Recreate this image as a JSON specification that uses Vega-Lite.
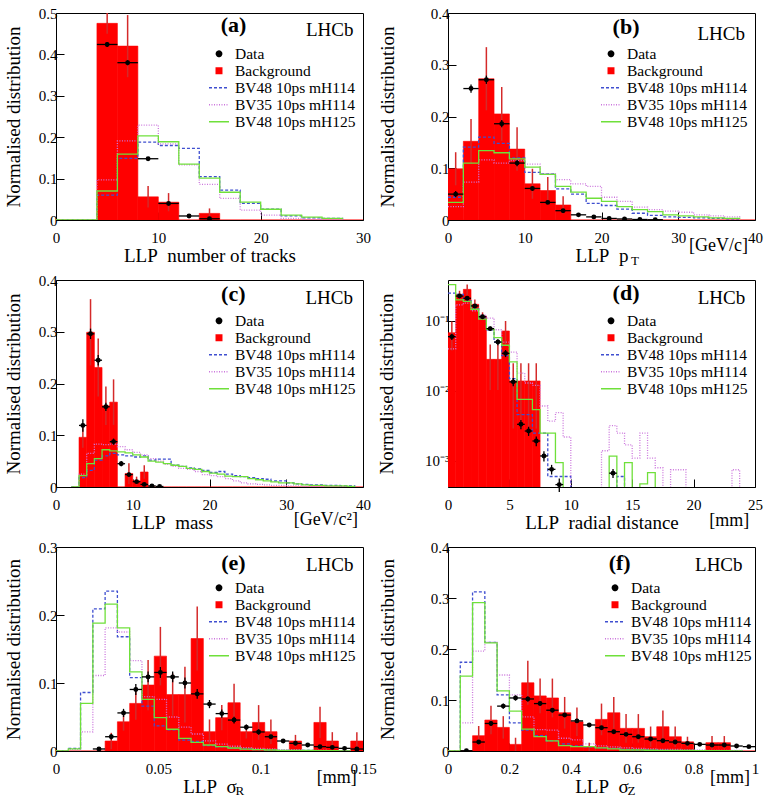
{
"$schema": "https://vega.github.io/schema/vega-lite/v6.json",
"background": "white",
"padding": {"left": 3, "top": 5, "right": 2, "bottom": 5},
"columns": 2,
"bounds": "flush",
"spacing": {"row": 60, "column": 85},
"resolve": {"scale": {"color": "independent", "strokeDash": "independent"}, "legend": {"color": "independent", "strokeDash": "independent"}},
"config": {
  "font": "Liberation Serif",
  "view": {"stroke": "#000", "strokeWidth": 1},
  "axis": {"labelFont": "Liberation Serif", "labelFontSize": 15, "labelColor": "#000", "titleFont": "Liberation Serif", "titleFontSize": 19, "titleFontWeight": "normal", "titleColor": "#000", "grid": false, "domain": false, "tickColor": "#000", "tickWidth": 1, "tickSize": -8, "labelFlush": false, "labelOverlap": false},
  "axisX": {"labelPadding": 18, "titlePadding": 1},
  "axisY": {"labelPadding": 7, "titlePadding": 15}
},
"datasets": {
"a": [
{"lo":0,"hi":2,"mid":1,"bkg":0,"s48":0,"s35":0,"s125":0},
{"lo":2,"hi":4,"mid":3,"bkg":0,"s48":0,"s35":0,"s125":0},
{"lo":4,"hi":6,"mid":5,"bkg":0.475,"bkgErr":0.025,"data":0.424,"dataErr":0.006,"s48":0.060,"s35":0.097,"s125":0.070},
{"lo":6,"hi":8,"mid":7,"bkg":0.420,"bkgErr":0.075,"data":0.380,"dataErr":0.006,"s48":0.149,"s35":0.191,"s125":0.159},
{"lo":8,"hi":10,"mid":9,"bkg":0.056,"bkgErr":0.026,"data":0.148,"dataErr":0.004,"s48":0.188,"s35":0.229,"s125":0.203},
{"lo":10,"hi":12,"mid":11,"bkg":0.043,"bkgErr":0.022,"data":0.040,"dataErr":0.003,"s48":0.180,"s35":0.184,"s125":0.189},
{"lo":12,"hi":14,"mid":13,"bkg":0,"data":0.0097,"dataErr":0.002,"s48":0.173,"s35":0.133,"s125":0.135},
{"lo":14,"hi":16,"mid":15,"bkg":0.016,"bkgErr":0.012,"data":0.003,"dataErr":0.001,"s48":0.105,"s35":0.086,"s125":0.101},
{"lo":16,"hi":18,"mid":17,"bkg":0,"s48":0.072,"s35":0.052,"s125":0.067},
{"lo":18,"hi":20,"mid":19,"bkg":0,"s48":0.040,"s35":0.024,"s125":0.043},
{"lo":20,"hi":22,"mid":21,"bkg":0,"s48":0.026,"s35":0.012,"s125":0.026},
{"lo":22,"hi":24,"mid":23,"bkg":0,"s48":0.010,"s35":0.004,"s125":0.012},
{"lo":24,"hi":26,"mid":25,"bkg":0,"s48":0.005,"s35":0.002,"s125":0.007},
{"lo":26,"hi":28,"mid":27,"bkg":0,"s48":0.004,"s35":0.001,"s125":0.004},
{"lo":28,"hi":30,"mid":29,"bkg":0,"s48":0.002,"s35":0.0005,"s125":0.002}
],
"b": [
{"lo":0,"hi":2,"mid":1,"bkg":0.099,"bkgErr":0.032,"data":0.050,"dataErr":0.006,"s48":0.044,"s35":0.026,"s125":0.034},
{"lo":2,"hi":4,"mid":3,"bkg":0.152,"bkgErr":0.043,"data":0.254,"dataErr":0.008,"s48":0.141,"s35":0.073,"s125":0.110},
{"lo":4,"hi":6,"mid":5,"bkg":0.273,"bkgErr":0.061,"data":0.271,"dataErr":0.008,"s48":0.160,"s35":0.116,"s125":0.134},
{"lo":6,"hi":8,"mid":7,"bkg":0.205,"bkgErr":0.052,"data":0.186,"dataErr":0.007,"s48":0.148,"s35":0.110,"s125":0.130},
{"lo":8,"hi":10,"mid":9,"bkg":0.137,"bkgErr":0.042,"data":0.110,"dataErr":0.006,"s48":0.120,"s35":0.115,"s125":0.118},
{"lo":10,"hi":12,"mid":11,"bkg":0.070,"bkgErr":0.029,"data":0.061,"dataErr":0.004,"s48":0.092,"s35":0.108,"s125":0.102},
{"lo":12,"hi":14,"mid":13,"bkg":0.057,"bkgErr":0.026,"data":0.034,"dataErr":0.003,"s48":0.089,"s35":0.089,"s125":0.088},
{"lo":14,"hi":16,"mid":15,"bkg":0.029,"bkgErr":0.017,"data":0.018,"dataErr":0.003,"s48":0.060,"s35":0.078,"s125":0.065},
{"lo":16,"hi":18,"mid":17,"bkg":0,"data":0.010,"dataErr":0.002,"s48":0.050,"s35":0.070,"s125":0.054},
{"lo":18,"hi":20,"mid":19,"bkg":0,"data":0.006,"dataErr":0.002,"s48":0.032,"s35":0.065,"s125":0.042},
{"lo":20,"hi":22,"mid":21,"bkg":0,"data":0.003,"dataErr":0.001,"s48":0.028,"s35":0.044,"s125":0.036},
{"lo":22,"hi":24,"mid":23,"bkg":0,"data":0.002,"dataErr":0.001,"s48":0.021,"s35":0.036,"s125":0.026},
{"lo":24,"hi":26,"mid":25,"bkg":0,"data":0.001,"dataErr":0.001,"s48":0.013,"s35":0.025,"s125":0.020},
{"lo":26,"hi":28,"mid":27,"bkg":0,"data":0.0005,"dataErr":0.0005,"s48":0.009,"s35":0.020,"s125":0.016},
{"lo":28,"hi":30,"mid":29,"bkg":0,"s48":0.006,"s35":0.017,"s125":0.010},
{"lo":30,"hi":32,"mid":31,"bkg":0,"s48":0.005,"s35":0.015,"s125":0.008},
{"lo":32,"hi":34,"mid":33,"bkg":0,"s48":0.004,"s35":0.010,"s125":0.006},
{"lo":34,"hi":36,"mid":35,"bkg":0,"s48":0.003,"s35":0.008,"s125":0.004},
{"lo":36,"hi":38,"mid":37,"bkg":0,"s48":0.002,"s35":0.006,"s125":0.003},
{"lo":38,"hi":40,"mid":39,"bkg":0,"s48":0.001,"s35":0.008,"s125":0.002}
],
"c": [
{"lo":2,"hi":3,"mid":2.5,"bkg":0,"s48":0,"s35":0,"s125":0},
{"lo":3,"hi":4,"mid":3.5,"bkg":0.096,"bkgErr":0.02,"data":0.119,"dataErr":0.012,"s48":0.018,"s35":0.025,"s125":0.022},
{"lo":4,"hi":5,"mid":4.5,"bkg":0.299,"bkgErr":0.064,"data":0.296,"dataErr":0.01,"s48":0.032,"s35":0.065,"s125":0.045},
{"lo":5,"hi":6,"mid":5.5,"bkg":0.231,"bkgErr":0.056,"data":0.245,"dataErr":0.01,"s48":0.052,"s35":0.083,"s125":0.055},
{"lo":6,"hi":7,"mid":6.5,"bkg":0.157,"bkgErr":0.037,"data":0.155,"dataErr":0.008,"s48":0.060,"s35":0.082,"s125":0.072},
{"lo":7,"hi":8,"mid":7.5,"bkg":0.164,"bkgErr":0.044,"data":0.0876,"dataErr":0.006,"s48":0.065,"s35":0.083,"s125":0.070},
{"lo":8,"hi":9,"mid":8.5,"bkg":0,"data":0.045,"dataErr":0.005,"s48":0.062,"s35":0.078,"s125":0.068},
{"lo":9,"hi":10,"mid":9.5,"bkg":0.026,"bkgErr":0.02,"data":0.024,"dataErr":0.004,"s48":0.060,"s35":0.072,"s125":0.066},
{"lo":10,"hi":11,"mid":10.5,"bkg":0.012,"bkgErr":0.008,"data":0.0103,"dataErr":0.003,"s48":0.058,"s35":0.067,"s125":0.062},
{"lo":11,"hi":12,"mid":11.5,"bkg":0.029,"bkgErr":0.013,"data":0.005,"dataErr":0.002,"s48":0.060,"s35":0.062,"s125":0.058},
{"lo":12,"hi":13,"mid":12.5,"bkg":0,"data":0.002,"dataErr":0.001,"s48":0.052,"s35":0.055,"s125":0.050},
{"lo":13,"hi":14,"mid":13.5,"bkg":0,"data":0.001,"dataErr":0.001,"s48":0.054,"s35":0.050,"s125":0.048},
{"lo":14,"hi":15,"mid":14.5,"bkg":0,"s48":0.054,"s35":0.044,"s125":0.045},
{"lo":15,"hi":16,"mid":15.5,"bkg":0,"s48":0.042,"s35":0.040,"s125":0.042},
{"lo":16,"hi":17,"mid":16.5,"bkg":0,"s48":0.040,"s35":0.036,"s125":0.040},
{"lo":17,"hi":18,"mid":17.5,"bkg":0,"s48":0.037,"s35":0.034,"s125":0.036},
{"lo":18,"hi":19,"mid":18.5,"bkg":0,"s48":0.035,"s35":0.030,"s125":0.034},
{"lo":19,"hi":20,"mid":19.5,"bkg":0,"s48":0.032,"s35":0.024,"s125":0.030},
{"lo":20,"hi":21,"mid":20.5,"bkg":0,"s48":0.028,"s35":0.022,"s125":0.027},
{"lo":21,"hi":22,"mid":21.5,"bkg":0,"s48":0.030,"s35":0.020,"s125":0.025},
{"lo":22,"hi":23,"mid":22.5,"bkg":0,"s48":0.025,"s35":0.016,"s125":0.021},
{"lo":23,"hi":24,"mid":23.5,"bkg":0,"s48":0.022,"s35":0.012,"s125":0.020},
{"lo":24,"hi":25,"mid":24.5,"bkg":0,"s48":0.020,"s35":0.008,"s125":0.020},
{"lo":25,"hi":26,"mid":25.5,"bkg":0,"s48":0.018,"s35":0.006,"s125":0.016},
{"lo":26,"hi":27,"mid":26.5,"bkg":0,"s48":0.016,"s35":0.005,"s125":0.014},
{"lo":27,"hi":28,"mid":27.5,"bkg":0,"s48":0.015,"s35":0.004,"s125":0.012},
{"lo":28,"hi":29,"mid":28.5,"bkg":0,"s48":0.012,"s35":0.003,"s125":0.010},
{"lo":29,"hi":30,"mid":29.5,"bkg":0,"s48":0.012,"s35":0.003,"s125":0.008},
{"lo":30,"hi":31,"mid":30.5,"bkg":0,"s48":0.008,"s35":0.002,"s125":0.008},
{"lo":31,"hi":32,"mid":31.5,"bkg":0,"s48":0.006,"s35":0.002,"s125":0.006},
{"lo":32,"hi":33,"mid":32.5,"bkg":0,"s48":0.005,"s35":0.001,"s125":0.004},
{"lo":33,"hi":34,"mid":33.5,"bkg":0,"s48":0.004,"s35":0.001,"s125":0.003},
{"lo":34,"hi":35,"mid":34.5,"bkg":0,"s48":0.004,"s35":0.001,"s125":0.003},
{"lo":35,"hi":36,"mid":35.5,"bkg":0,"s48":0.003,"s35":0.001,"s125":0.002},
{"lo":36,"hi":37,"mid":36.5,"bkg":0,"s48":0.003,"s35":0.0005,"s125":0.002},
{"lo":37,"hi":38,"mid":37.5,"bkg":0,"s48":0.002,"s35":0.0005,"s125":0.002},
{"lo":38,"hi":39,"mid":38.5,"bkg":0,"s48":0.002,"s35":0.0005,"s125":0.001},
{"lo":39,"hi":40,"mid":39.5,"bkg":0,"s48":0.002,"s35":0.0005,"s125":0.001}
],
"d": [
{"lo":0,"hi":0.625,"mid":0.3125,"bkg":0.068,"bkgErr":0.03,"data":0.0597,"dataErr":0.006,"s48":0.25,"s35":0.04,"s125":0.33},
{"lo":0.625,"hi":1.25,"mid":0.9375,"bkg":0.24,"bkgErr":0.03,"data":0.227,"dataErr":0.012,"s48":0.24,"s35":0.17,"s125":0.20},
{"lo":1.25,"hi":1.875,"mid":1.5625,"bkg":0.283,"bkgErr":0.05,"data":0.211,"dataErr":0.012,"s48":0.20,"s35":0.18,"s125":0.19},
{"lo":1.875,"hi":2.5,"mid":2.1875,"bkg":0.173,"bkgErr":0.03,"data":0.164,"dataErr":0.01,"s48":0.15,"s35":0.14,"s125":0.147},
{"lo":2.5,"hi":3.125,"mid":2.8125,"bkg":0.118,"bkgErr":0.015,"data":0.115,"dataErr":0.008,"s48":0.11,"s35":0.12,"s125":0.106},
{"lo":3.125,"hi":3.75,"mid":3.4375,"bkg":0.0283,"bkgErr":0.018,"data":0.0777,"dataErr":0.006,"s48":0.075,"s35":0.11,"s125":0.076},
{"lo":3.75,"hi":4.375,"mid":4.0625,"bkg":0.0283,"bkgErr":0.018,"data":0.050,"dataErr":0.005,"s48":0.05,"s35":0.075,"s125":0.058},
{"lo":4.375,"hi":5,"mid":4.6875,"bkg":0.072,"bkgErr":0.028,"data":0.0345,"dataErr":0.004,"s48":0.032,"s35":0.05,"s125":0.045},
{"lo":5,"hi":5.625,"mid":5.3125,"bkg":0.0139,"bkgErr":0.011,"data":0.0135,"dataErr":0.0018,"s48":0.015,"s35":0.036,"s125":0.026},
{"lo":5.625,"hi":6.25,"mid":5.9375,"bkg":0.0139,"bkgErr":0.011,"data":0.00334,"dataErr":0.0005,"s48":0.0046,"s35":0.018,"s125":0.0076},
{"lo":6.25,"hi":6.875,"mid":6.5625,"bkg":0.0139,"bkgErr":0.011,"data":0.00268,"dataErr":0.0004,"s48":0.0046,"s35":0.013,"s125":0.0076},
{"lo":6.875,"hi":7.5,"mid":7.1875,"bkg":0.0139,"bkgErr":0.011,"data":0.00193,"dataErr":0.0003,"s48":0.0025,"s35":0.012,"s125":0.0054},
{"lo":7.5,"hi":8.125,"mid":7.8125,"data":0.00118,"dataErr":0.0002,"s48":0.0025,"s35":0.0061,"s125":0.0025},
{"lo":8.125,"hi":8.75,"mid":8.4375,"data":0.00076,"dataErr":0.00012,"s48":0.0006,"s35":0.0037,"s125":0.0025},
{"lo":8.75,"hi":9.375,"mid":9.0625,"data":0.00046,"dataErr":0.0001,"s48":0.0006,"s35":0.0049,"s125":0.00095},
{"lo":9.375,"hi":10,"mid":9.6875,"s48":0.0006,"s35":0.0022,"s125":0.00001},
{"lo":10,"hi":10.625,"mid":10.3125,"s48":0.00001,"s35":0.00001,"s125":0.00001},
{"lo":10.625,"hi":11.25,"mid":10.9375,"s48":0.00001,"s35":0.00001,"s125":0.00001},
{"lo":11.25,"hi":11.875,"mid":11.5625,"s48":0.00001,"s35":0.00001,"s125":0.00001},
{"lo":11.875,"hi":12.5,"mid":12.1875,"s48":0.00001,"s35":0.00001,"s125":0.00001},
{"lo":12.5,"hi":13.125,"mid":12.8125,"s48":0.00001,"s35":0.0014,"s125":0.00001},
{"lo":13.125,"hi":13.75,"mid":13.4375,"data":0.00067,"dataErr":0.0001,"s48":0.00001,"s35":0.0032,"s125":0.00117},
{"lo":13.75,"hi":14.375,"mid":14.0625,"s48":0.0006,"s35":0.0025,"s125":0.00001},
{"lo":14.375,"hi":15,"mid":14.6875,"s48":0.00001,"s35":0.0017,"s125":0.00095},
{"lo":15,"hi":15.625,"mid":15.3125,"s48":0.00001,"s35":0.0011,"s125":0.00001},
{"lo":15.625,"hi":16.25,"mid":15.9375,"s48":0.00001,"s35":0.0025,"s125":0.00047},
{"lo":16.25,"hi":16.875,"mid":16.5625,"s48":0.00001,"s35":0.0011,"s125":0.00068},
{"lo":16.875,"hi":17.5,"mid":17.1875,"s48":0.00001,"s35":0.0008,"s125":0.00001},
{"lo":17.5,"hi":18.125,"mid":17.8125,"s48":0.00001,"s35":0.00001,"s125":0.00001},
{"lo":18.125,"hi":18.75,"mid":18.4375,"s48":0.00001,"s35":0.00075,"s125":0.00001},
{"lo":18.75,"hi":19.375,"mid":19.0625,"s48":0.00001,"s35":0.00075,"s125":0.00001},
{"lo":19.375,"hi":20,"mid":19.6875,"s48":0.00001,"s35":0.00001,"s125":0.00001},
{"lo":20,"hi":20.625,"mid":20.3125,"s48":0.00001,"s35":0.00001,"s125":0.00001},
{"lo":20.625,"hi":21.25,"mid":20.9375,"s48":0.00001,"s35":0.00001,"s125":0.00001},
{"lo":21.25,"hi":21.875,"mid":21.5625,"s48":0.00001,"s35":0.00001,"s125":0.00001},
{"lo":21.875,"hi":22.5,"mid":22.1875,"s48":0.00001,"s35":0.00001,"s125":0.00001},
{"lo":22.5,"hi":23.125,"mid":22.8125,"s48":0.00001,"s35":0.00001,"s125":0.00001},
{"lo":23.125,"hi":23.75,"mid":23.4375,"s48":0.00001,"s35":0.00075,"s125":0.00001},
{"lo":23.75,"hi":24.375,"mid":24.0625,"s48":0.00001,"s35":0.00001,"s125":0.00001},
{"lo":24.375,"hi":25,"mid":24.6875,"s48":0.00001,"s35":0.00001,"s125":0.00001}
],
"e": [
{"lo":0,"hi":0.006,"mid":0.003,"bkg":0,"s48":0,"s35":0,"s125":0},
{"lo":0.006,"hi":0.012,"mid":0.009,"bkg":0,"s48":0.004,"s35":0.002,"s125":0.003},
{"lo":0.012,"hi":0.018,"mid":0.015,"bkg":0,"s48":0.086,"s35":0.028,"s125":0.070},
{"lo":0.018,"hi":0.024,"mid":0.021,"bkg":0,"data":0.003,"dataErr":0.002,"s48":0.209,"s35":0.111,"s125":0.188},
{"lo":0.024,"hi":0.030,"mid":0.027,"bkg":0.0147,"bkgErr":0.012,"data":0.021,"dataErr":0.004,"s48":0.235,"s35":0.181,"s125":0.216},
{"lo":0.030,"hi":0.036,"mid":0.033,"bkg":0.043,"bkgErr":0.013,"data":0.056,"dataErr":0.006,"s48":0.168,"s35":0.175,"s125":0.181},
{"lo":0.036,"hi":0.042,"mid":0.039,"bkg":0.070,"bkgErr":0.024,"data":0.0905,"dataErr":0.008,"s48":0.108,"s35":0.133,"s125":0.1165},
{"lo":0.042,"hi":0.048,"mid":0.045,"bkg":0.097,"bkgErr":0.037,"data":0.109,"dataErr":0.008,"s48":0.066,"s35":0.080,"s125":0.076},
{"lo":0.048,"hi":0.054,"mid":0.051,"bkg":0.1395,"bkgErr":0.043,"data":0.1155,"dataErr":0.008,"s48":0.037,"s35":0.076,"s125":0.049},
{"lo":0.054,"hi":0.060,"mid":0.057,"bkg":0.083,"bkgErr":0.031,"data":0.109,"dataErr":0.008,"s48":0.031,"s35":0.050,"s125":0.032},
{"lo":0.060,"hi":0.066,"mid":0.063,"bkg":0.083,"bkgErr":0.041,"data":0.100,"dataErr":0.008,"s48":0.016,"s35":0.035,"s125":0.0186},
{"lo":0.066,"hi":0.072,"mid":0.069,"bkg":0.1654,"bkgErr":0.047,"data":0.084,"dataErr":0.007,"s48":0.014,"s35":0.025,"s125":0.0127},
{"lo":0.072,"hi":0.078,"mid":0.075,"bkg":0.0284,"bkgErr":0.018,"data":0.069,"dataErr":0.006,"s48":0.008,"s35":0.015,"s125":0.0088},
{"lo":0.078,"hi":0.084,"mid":0.081,"bkg":0.049,"bkgErr":0.0185,"data":0.055,"dataErr":0.006,"s48":0.006,"s35":0.010,"s125":0.0064},
{"lo":0.084,"hi":0.090,"mid":0.087,"bkg":0.071,"bkgErr":0.028,"data":0.0455,"dataErr":0.005,"s48":0.004,"s35":0.007,"s125":0.0044},
{"lo":0.090,"hi":0.096,"mid":0.093,"bkg":0.0284,"bkgErr":0.01,"data":0.035,"dataErr":0.004,"s48":0.003,"s35":0.005,"s125":0.0029},
{"lo":0.096,"hi":0.102,"mid":0.099,"bkg":0.042,"bkgErr":0.0255,"data":0.028,"dataErr":0.004,"s48":0.002,"s35":0.004,"s125":0.002},
{"lo":0.102,"hi":0.108,"mid":0.105,"bkg":0.0284,"bkgErr":0.018,"data":0.021,"dataErr":0.003,"s48":0.0015,"s35":0.003,"s125":0.0015},
{"lo":0.108,"hi":0.114,"mid":0.111,"bkg":0,"data":0.0147,"dataErr":0.003,"s48":0.001,"s35":0.002,"s125":0.001},
{"lo":0.114,"hi":0.120,"mid":0.117,"bkg":0.0147,"bkgErr":0.009,"data":0.0113,"dataErr":0.002,"s48":0.001,"s35":0.002,"s125":0.001},
{"lo":0.120,"hi":0.126,"mid":0.123,"bkg":0,"data":0.0088,"dataErr":0.002,"s48":0.0008,"s35":0.001,"s125":0.0008},
{"lo":0.126,"hi":0.132,"mid":0.129,"bkg":0.042,"bkgErr":0.023,"data":0.0064,"dataErr":0.0015,"s48":0.0005,"s35":0.001,"s125":0.0005},
{"lo":0.132,"hi":0.138,"mid":0.135,"bkg":0.0147,"bkgErr":0.013,"data":0.0054,"dataErr":0.0015,"s48":0.0005,"s35":0.0005,"s125":0.0005},
{"lo":0.138,"hi":0.144,"mid":0.141,"bkg":0,"data":0.0039,"dataErr":0.001,"s48":0.0003,"s35":0.0005,"s125":0.0003},
{"lo":0.144,"hi":0.150,"mid":0.147,"bkg":0.0147,"bkgErr":0.013,"data":0.0029,"dataErr":0.001,"s48":0.0003,"s35":0.0005,"s125":0.0003}
],
"f": [
{"lo":0,"hi":0.04,"mid":0.02,"bkg":0,"s48":0,"s35":0,"s125":0},
{"lo":0.04,"hi":0.08,"mid":0.06,"bkg":0,"data":0.0005,"dataErr":0.0005,"s48":0.174,"s35":0.055,"s125":0.147},
{"lo":0.08,"hi":0.12,"mid":0.10,"bkg":0.030,"bkgErr":0.019,"data":0.0176,"dataErr":0.003,"s48":0.312,"s35":0.196,"s125":0.291},
{"lo":0.12,"hi":0.16,"mid":0.14,"bkg":0.0607,"bkgErr":0.028,"data":0.054,"dataErr":0.005,"s48":0.213,"s35":0.213,"s125":0.212},
{"lo":0.16,"hi":0.20,"mid":0.18,"bkg":0.0463,"bkgErr":0.022,"data":0.088,"dataErr":0.005,"s48":0.110,"s35":0.149,"s125":0.118},
{"lo":0.20,"hi":0.24,"mid":0.22,"bkg":0.013,"bkgErr":0.013,"data":0.104,"dataErr":0.005,"s48":0.055,"s35":0.110,"s125":0.078},
{"lo":0.24,"hi":0.28,"mid":0.26,"bkg":0.1338,"bkgErr":0.043,"data":0.102,"dataErr":0.005,"s48":0.041,"s35":0.067,"s125":0.043},
{"lo":0.28,"hi":0.32,"mid":0.30,"bkg":0.108,"bkgErr":0.034,"data":0.093,"dataErr":0.004,"s48":0.030,"s35":0.042,"s125":0.028},
{"lo":0.32,"hi":0.36,"mid":0.34,"bkg":0.104,"bkgErr":0.038,"data":0.080,"dataErr":0.004,"s48":0.020,"s35":0.041,"s125":0.020},
{"lo":0.36,"hi":0.40,"mid":0.38,"bkg":0.075,"bkgErr":0.031,"data":0.0705,"dataErr":0.004,"s48":0.014,"s35":0.025,"s125":0.0104},
{"lo":0.40,"hi":0.44,"mid":0.42,"bkg":0.0574,"bkgErr":0.028,"data":0.059,"dataErr":0.004,"s48":0.010,"s35":0.022,"s125":0.0085},
{"lo":0.44,"hi":0.48,"mid":0.46,"bkg":0.008,"bkgErr":0.008,"data":0.051,"dataErr":0.003,"s48":0.008,"s35":0.014,"s125":0.0085},
{"lo":0.48,"hi":0.52,"mid":0.50,"bkg":0.062,"bkgErr":0.031,"data":0.0457,"dataErr":0.003,"s48":0.006,"s35":0.010,"s125":0.006},
{"lo":0.52,"hi":0.56,"mid":0.54,"bkg":0.075,"bkgErr":0.031,"data":0.0378,"dataErr":0.003,"s48":0.005,"s35":0.008,"s125":0.004},
{"lo":0.56,"hi":0.60,"mid":0.58,"bkg":0.0444,"bkgErr":0.028,"data":0.0326,"dataErr":0.003,"s48":0.003,"s35":0.006,"s125":0.002},
{"lo":0.60,"hi":0.64,"mid":0.62,"bkg":0.0444,"bkgErr":0.028,"data":0.028,"dataErr":0.003,"s48":0.002,"s35":0.005,"s125":0.002},
{"lo":0.64,"hi":0.68,"mid":0.66,"bkg":0.028,"bkgErr":0.02,"data":0.0235,"dataErr":0.003,"s48":0.002,"s35":0.004,"s125":0.0015},
{"lo":0.68,"hi":0.72,"mid":0.70,"bkg":0.0476,"bkgErr":0.032,"data":0.0202,"dataErr":0.002,"s48":0.0015,"s35":0.003,"s125":0.001},
{"lo":0.72,"hi":0.76,"mid":0.74,"bkg":0.028,"bkgErr":0.02,"data":0.0176,"dataErr":0.002,"s48":0.001,"s35":0.003,"s125":0.001},
{"lo":0.76,"hi":0.80,"mid":0.78,"bkg":0.018,"bkgErr":0.01,"data":0.015,"dataErr":0.002,"s48":0.001,"s35":0.002,"s125":0.001},
{"lo":0.80,"hi":0.84,"mid":0.82,"bkg":0,"data":0.013,"dataErr":0.002,"s48":0.0005,"s35":0.002,"s125":0.0005},
{"lo":0.84,"hi":0.88,"mid":0.86,"bkg":0.0163,"bkgErr":0.013,"data":0.0117,"dataErr":0.002,"s48":0.0005,"s35":0.001,"s125":0.0005},
{"lo":0.88,"hi":0.92,"mid":0.90,"bkg":0.0163,"bkgErr":0.013,"data":0.0117,"dataErr":0.002,"s48":0.0005,"s35":0.001,"s125":0.0005},
{"lo":0.92,"hi":0.96,"mid":0.94,"bkg":0,"data":0.0098,"dataErr":0.002,"s48":0.0003,"s35":0.001,"s125":0.0003},
{"lo":0.96,"hi":1.0,"mid":0.98,"bkg":0,"data":0.0085,"dataErr":0.002,"s48":0.0003,"s35":0.0005,"s125":0.0003}
]
},
"concat": [
{
 "width": 307, "height": 207,
 "data": {"name": "a"},
 "layer": [
  {"mark": {"type": "rect", "color": "#ff0000", "stroke": "#ff0000", "strokeWidth": 0.6, "clip": true},
   "encoding": {
    "x": {"field": "lo", "type": "quantitative", "scale": {"domain": [0, 30], "nice": false, "zero": false},
      "axis": {"title": "LLP\u00a0 number of tracks", "format": "~g", "values": [0,10,20,30]}},
    "x2": {"field": "hi"},
    "y": {"field": "bkg", "type": "quantitative", "scale": {"domain": [0, 0.5], "nice": false},
      "axis": {"title": "Normalised distribution", "format": "~g", "values": [0,0.1,0.2,0.3,0.4,0.5]}},
    "y2": {"datum": 0}
   }},
  {"transform": [{"filter": "datum.bkg > 0"}],
   "mark": {"type": "errorbar", "color": "#d42a2a", "thickness": 1.5},
   "encoding": {"x": {"field": "mid", "type": "quantitative", "title": "LLP\u00a0 number of tracks"}, "y": {"field": "bkg", "type": "quantitative", "title": "Normalised distribution"}, "yError": {"field": "bkgErr"}}},
  {"transform": [{"fold": ["s48", "s35", "s125"], "as": ["series", "v"]}],
   "mark": {"type": "line", "interpolate": "step-after", "clip": true, "strokeWidth": 1.3},
   "encoding": {
    "x": {"field": "lo", "type": "quantitative"},
    "y": {"field": "v", "type": "quantitative"},
    "strokeDash": {"field": "series", "type": "nominal", "scale": {"domain": ["s48", "s35", "s125"], "range": [[3, 2], [1, 1.5], [1, 0]]}, "legend": null},
    "color": {"field": "series", "type": "nominal",
      "scale": {"domain": ["Data", "Background", "s48", "s35", "s125"], "range": ["#000000", "#ff0000", "#3f4fd0", "#cc77dd", "#6fe03a"]},
      "legend": {"orient": "none", "legendX": 152, "legendY": 34, "title": null, "padding": 0, "labelFont": "Liberation Serif", "labelFontSize": 15.5, "labelColor": "#000", "labelOffset": 5, "labelLimit": 300, "symbolSize": 400, "clipHeight": 13.5, "rowPadding": 0,
        "labelExpr": "datum.value=='s48'?'BV48 10ps mH114':datum.value=='s35'?'BV35 10ps mH114':datum.value=='s125'?'BV48 10ps mH125':datum.value",
        "encode": {"symbols": {"update": {
          "shape": {"signal": "datum.value=='Data'?'circle':datum.value=='Background'?'square':'stroke'"},
          "size": {"signal": "datum.value=='Data'?28:datum.value=='Background'?30:400"},
          "fill": {"signal": "datum.value=='Data'?'#000000':datum.value=='Background'?'#ff0000':'transparent'"},
          "stroke": {"signal": "datum.value=='s48'?'#3f4fd0':datum.value=='s35'?'#cc77dd':datum.value=='s125'?'#6fe03a':'transparent'"},
          "strokeDash": {"signal": "datum.value=='s48'?[3,2]:datum.value=='s35'?[1,1.5]:[1,0]"},
          "strokeWidth": {"value": 1.5},
          "opacity": {"value": 1}}}}}}
   }},
  {"transform": [{"filter": "datum.data != null"}],
   "mark": {"type": "rule", "color": "#000", "strokeWidth": 1.3, "clip": true},
   "encoding": {"x": {"field": "lo", "type": "quantitative"}, "x2": {"field": "hi"}, "y": {"field": "data", "type": "quantitative"}}},
  {"transform": [{"filter": "datum.data != null"}],
   "mark": {"type": "errorbar", "color": "#000", "thickness": 1.3},
   "encoding": {"x": {"field": "mid", "type": "quantitative", "title": "LLP\u00a0 number of tracks"}, "y": {"field": "data", "type": "quantitative", "title": "Normalised distribution"}, "yError": {"field": "dataErr"}}},
  {"transform": [{"filter": "datum.data != null"}],
   "mark": {"type": "point", "filled": true, "color": "#000", "size": 24, "opacity": 1, "clip": true},
   "encoding": {"x": {"field": "mid", "type": "quantitative"}, "y": {"field": "data", "type": "quantitative"}}},
  {"data": {"values": [{"t": "(a)"}]},
   "mark": {"type": "text", "font": "Liberation Serif", "fontSize": 22, "fontWeight": "bold", "color": "#000", "align": "center", "baseline": "middle"},
   "encoding": {"x": {"datum": 17.35}, "y": {"datum": 0.470}, "text": {"field": "t"}}},
  {"data": {"values": [{"t": "LHCb"}]},
   "mark": {"type": "text", "font": "Liberation Serif", "fontSize": 19, "color": "#000", "align": "center", "baseline": "middle"},
   "encoding": {"x": {"datum": 26.75}, "y": {"datum": 0.458}, "text": {"field": "t"}}}
 ]
},
{
 "width": 307, "height": 207,
 "data": {"name": "b"},
 "layer": [
  {"mark": {"type": "rect", "color": "#ff0000", "stroke": "#ff0000", "strokeWidth": 0.6, "clip": true},
   "encoding": {
    "x": {"field": "lo", "type": "quantitative", "scale": {"domain": [0, 40], "nice": false, "zero": false},
      "axis": {"title": "LLP\u00a0 p", "format": "~g", "values": [0,10,20,30,40]}},
    "x2": {"field": "hi"},
    "y": {"field": "bkg", "type": "quantitative", "scale": {"domain": [0, 0.4], "nice": false},
      "axis": {"title": "Normalised distribution", "titlePadding": 33, "format": "~g", "values": [0,0.1,0.2,0.3,0.4]}},
    "y2": {"datum": 0}
   }},
  {"transform": [{"filter": "datum.bkg > 0"}],
   "mark": {"type": "errorbar", "color": "#d42a2a", "thickness": 1.5},
   "encoding": {"x": {"field": "mid", "type": "quantitative", "title": "LLP\u00a0 p"}, "y": {"field": "bkg", "type": "quantitative", "title": "Normalised distribution"}, "yError": {"field": "bkgErr"}}},
  {"transform": [{"fold": ["s48", "s35", "s125"], "as": ["series", "v"]}],
   "mark": {"type": "line", "interpolate": "step-after", "clip": true, "strokeWidth": 1.3},
   "encoding": {
    "x": {"field": "lo", "type": "quantitative"},
    "y": {"field": "v", "type": "quantitative"},
    "strokeDash": {"field": "series", "type": "nominal", "scale": {"domain": ["s48", "s35", "s125"], "range": [[3, 2], [1, 1.5], [1, 0]]}, "legend": null},
    "color": {"field": "series", "type": "nominal",
      "scale": {"domain": ["Data", "Background", "s48", "s35", "s125"], "range": ["#000000", "#ff0000", "#3f4fd0", "#cc77dd", "#6fe03a"]},
      "legend": {"orient": "none", "legendX": 152, "legendY": 34, "title": null, "padding": 0, "labelFont": "Liberation Serif", "labelFontSize": 15.5, "labelColor": "#000", "labelOffset": 5, "labelLimit": 300, "symbolSize": 400, "clipHeight": 13.5, "rowPadding": 0,
        "labelExpr": "datum.value=='s48'?'BV48 10ps mH114':datum.value=='s35'?'BV35 10ps mH114':datum.value=='s125'?'BV48 10ps mH125':datum.value",
        "encode": {"symbols": {"update": {
          "shape": {"signal": "datum.value=='Data'?'circle':datum.value=='Background'?'square':'stroke'"},
          "size": {"signal": "datum.value=='Data'?28:datum.value=='Background'?30:400"},
          "fill": {"signal": "datum.value=='Data'?'#000000':datum.value=='Background'?'#ff0000':'transparent'"},
          "stroke": {"signal": "datum.value=='s48'?'#3f4fd0':datum.value=='s35'?'#cc77dd':datum.value=='s125'?'#6fe03a':'transparent'"},
          "strokeDash": {"signal": "datum.value=='s48'?[3,2]:datum.value=='s35'?[1,1.5]:[1,0]"},
          "strokeWidth": {"value": 1.5},
          "opacity": {"value": 1}}}}}}
   }},
  {"transform": [{"filter": "datum.data != null"}],
   "mark": {"type": "rule", "color": "#000", "strokeWidth": 1.3, "clip": true},
   "encoding": {"x": {"field": "lo", "type": "quantitative"}, "x2": {"field": "hi"}, "y": {"field": "data", "type": "quantitative"}}},
  {"transform": [{"filter": "datum.data != null"}],
   "mark": {"type": "errorbar", "color": "#000", "thickness": 1.3},
   "encoding": {"x": {"field": "mid", "type": "quantitative", "title": "LLP\u00a0 p"}, "y": {"field": "data", "type": "quantitative", "title": "Normalised distribution"}, "yError": {"field": "dataErr"}}},
  {"transform": [{"filter": "datum.data != null"}],
   "mark": {"type": "point", "filled": true, "color": "#000", "size": 24, "opacity": 1, "clip": true},
   "encoding": {"x": {"field": "mid", "type": "quantitative"}, "y": {"field": "data", "type": "quantitative"}}},
  {"data": {"values": [{"t": "(b)"}]},
   "mark": {"type": "text", "font": "Liberation Serif", "fontSize": 22, "fontWeight": "bold", "color": "#000", "align": "center", "baseline": "middle"},
   "encoding": {"x": {"datum": 23.2}, "y": {"datum": 0.373}, "text": {"field": "t"}}},
  {"data": {"values": [{"t": "LHCb"}]},
   "mark": {"type": "text", "font": "Liberation Serif", "fontSize": 19, "color": "#000", "align": "center", "baseline": "middle"},
   "encoding": {"x": {"datum": 35.6}, "y": {"datum": 0.360}, "text": {"field": "t"}}},
  {"data": {"values": [{"t": "[GeV/c]"}]},
   "mark": {"type": "text", "font": "Liberation Serif", "fontSize": 18, "color": "#000", "align": "right", "baseline": "middle"},
   "encoding": {"x": {"datum": 39.1}, "y": {"datum": -0.0493}, "text": {"field": "t"}}},
  {"data": {"values": [{"t": "T"}]},
   "mark": {"type": "text", "font": "Liberation Serif", "fontSize": 13, "color": "#000", "align": "left", "baseline": "middle"},
   "encoding": {"x": {"datum": 23.85}, "y": {"datum": -0.0792}, "text": {"field": "t"}}}
 ]
},
{
 "width": 307, "height": 207,
 "data": {"name": "c"},
 "layer": [
  {"mark": {"type": "rect", "color": "#ff0000", "stroke": "#ff0000", "strokeWidth": 0.6, "clip": true},
   "encoding": {
    "x": {"field": "lo", "type": "quantitative", "scale": {"domain": [0, 40], "nice": false, "zero": false},
      "axis": {"title": "LLP\u00a0 mass", "titleX": 116, "format": "~g", "values": [0,10,20,30,40]}},
    "x2": {"field": "hi"},
    "y": {"field": "bkg", "type": "quantitative", "scale": {"domain": [0, 0.4], "nice": false},
      "axis": {"title": "Normalised distribution", "format": "~g", "values": [0,0.1,0.2,0.3,0.4]}},
    "y2": {"datum": 0}
   }},
  {"transform": [{"filter": "datum.bkg > 0"}],
   "mark": {"type": "errorbar", "color": "#d42a2a", "thickness": 1.5},
   "encoding": {"x": {"field": "mid", "type": "quantitative", "title": "LLP\u00a0 mass"}, "y": {"field": "bkg", "type": "quantitative", "title": "Normalised distribution"}, "yError": {"field": "bkgErr"}}},
  {"transform": [{"fold": ["s48", "s35", "s125"], "as": ["series", "v"]}],
   "mark": {"type": "line", "interpolate": "step-after", "clip": true, "strokeWidth": 1.3},
   "encoding": {
    "x": {"field": "lo", "type": "quantitative"},
    "y": {"field": "v", "type": "quantitative"},
    "strokeDash": {"field": "series", "type": "nominal", "scale": {"domain": ["s48", "s35", "s125"], "range": [[3, 2], [1, 1.5], [1, 0]]}, "legend": null},
    "color": {"field": "series", "type": "nominal",
      "scale": {"domain": ["Data", "Background", "s48", "s35", "s125"], "range": ["#000000", "#ff0000", "#3f4fd0", "#cc77dd", "#6fe03a"]},
      "legend": {"orient": "none", "legendX": 152, "legendY": 34, "title": null, "padding": 0, "labelFont": "Liberation Serif", "labelFontSize": 15.5, "labelColor": "#000", "labelOffset": 5, "labelLimit": 300, "symbolSize": 400, "clipHeight": 13.5, "rowPadding": 0,
        "labelExpr": "datum.value=='s48'?'BV48 10ps mH114':datum.value=='s35'?'BV35 10ps mH114':datum.value=='s125'?'BV48 10ps mH125':datum.value",
        "encode": {"symbols": {"update": {
          "shape": {"signal": "datum.value=='Data'?'circle':datum.value=='Background'?'square':'stroke'"},
          "size": {"signal": "datum.value=='Data'?28:datum.value=='Background'?30:400"},
          "fill": {"signal": "datum.value=='Data'?'#000000':datum.value=='Background'?'#ff0000':'transparent'"},
          "stroke": {"signal": "datum.value=='s48'?'#3f4fd0':datum.value=='s35'?'#cc77dd':datum.value=='s125'?'#6fe03a':'transparent'"},
          "strokeDash": {"signal": "datum.value=='s48'?[3,2]:datum.value=='s35'?[1,1.5]:[1,0]"},
          "strokeWidth": {"value": 1.5},
          "opacity": {"value": 1}}}}}}
   }},
  {"transform": [{"filter": "datum.data != null"}],
   "mark": {"type": "rule", "color": "#000", "strokeWidth": 1.3, "clip": true},
   "encoding": {"x": {"field": "lo", "type": "quantitative"}, "x2": {"field": "hi"}, "y": {"field": "data", "type": "quantitative"}}},
  {"transform": [{"filter": "datum.data != null"}],
   "mark": {"type": "errorbar", "color": "#000", "thickness": 1.3},
   "encoding": {"x": {"field": "mid", "type": "quantitative", "title": "LLP\u00a0 mass"}, "y": {"field": "data", "type": "quantitative", "title": "Normalised distribution"}, "yError": {"field": "dataErr"}}},
  {"transform": [{"filter": "datum.data != null"}],
   "mark": {"type": "point", "filled": true, "color": "#000", "size": 24, "opacity": 1, "clip": true},
   "encoding": {"x": {"field": "mid", "type": "quantitative"}, "y": {"field": "data", "type": "quantitative"}}},
  {"data": {"values": [{"t": "(c)"}]},
   "mark": {"type": "text", "font": "Liberation Serif", "fontSize": 22, "fontWeight": "bold", "color": "#000", "align": "center", "baseline": "middle"},
   "encoding": {"x": {"datum": 23.1}, "y": {"datum": 0.372}, "text": {"field": "t"}}},
  {"data": {"values": [{"t": "LHCb"}]},
   "mark": {"type": "text", "font": "Liberation Serif", "fontSize": 19, "color": "#000", "align": "center", "baseline": "middle"},
   "encoding": {"x": {"datum": 35.6}, "y": {"datum": 0.366}, "text": {"field": "t"}}},
  {"data": {"values": [{"t": "[GeV/c²]"}]},
   "mark": {"type": "text", "font": "Liberation Serif", "fontSize": 18, "color": "#000", "align": "right", "baseline": "middle"},
   "encoding": {"x": {"datum": 39.35}, "y": {"datum": -0.0638}, "text": {"field": "t"}}}
 ]
},
{
 "width": 307, "height": 207,
 "data": {"name": "d"},
 "layer": [
  {"transform": [{"filter": "datum.bkg > 0"}],
   "mark": {"type": "rect", "color": "#ff0000", "stroke": "#ff0000", "strokeWidth": 0.6, "clip": true},
   "encoding": {
    "x": {"field": "lo", "type": "quantitative", "scale": {"domain": [0, 25], "nice": false, "zero": false},
      "axis": {"title": "LLP\u00a0 radial distance", "format": "~g", "values": [0,5,10,15,20,25]}},
    "x2": {"field": "hi"},
    "y": {"field": "bkg", "type": "quantitative", "scale": {"type": "log", "domain": [0.000425, 0.385], "nice": false},
      "axis": {"title": "Normalised distribution", "titlePadding": 28, "values": [0.001,0.01,0.1], "labelExpr": "datum.value==0.1?'10⁻¹':datum.value==0.01?'10⁻²':'10⁻³'"}},
    "y2": {"datum": 0.0001}
   }},
  {"transform": [{"filter": "datum.bkg > 0"}],
   "mark": {"type": "errorbar", "color": "#d42a2a", "thickness": 1.5},
   "encoding": {"x": {"field": "mid", "type": "quantitative", "title": "LLP\u00a0 radial distance"}, "y": {"field": "bkg", "type": "quantitative", "title": "Normalised distribution"}, "yError": {"field": "bkgErr"}}},
  {"transform": [{"fold": ["s48", "s35", "s125"], "as": ["series", "v"]}],
   "mark": {"type": "line", "interpolate": "step-after", "clip": true, "strokeWidth": 1.3},
   "encoding": {
    "x": {"field": "lo", "type": "quantitative"},
    "y": {"field": "v", "type": "quantitative"},
    "strokeDash": {"field": "series", "type": "nominal", "scale": {"domain": ["s48", "s35", "s125"], "range": [[3, 2], [1, 1.5], [1, 0]]}, "legend": null},
    "color": {"field": "series", "type": "nominal",
      "scale": {"domain": ["Data", "Background", "s48", "s35", "s125"], "range": ["#000000", "#ff0000", "#3f4fd0", "#cc77dd", "#6fe03a"]},
      "legend": {"orient": "none", "legendX": 152, "legendY": 34, "title": null, "padding": 0, "labelFont": "Liberation Serif", "labelFontSize": 15.5, "labelColor": "#000", "labelOffset": 5, "labelLimit": 300, "symbolSize": 400, "clipHeight": 13.5, "rowPadding": 0,
        "labelExpr": "datum.value=='s48'?'BV48 10ps mH114':datum.value=='s35'?'BV35 10ps mH114':datum.value=='s125'?'BV48 10ps mH125':datum.value",
        "encode": {"symbols": {"update": {
          "shape": {"signal": "datum.value=='Data'?'circle':datum.value=='Background'?'square':'stroke'"},
          "size": {"signal": "datum.value=='Data'?28:datum.value=='Background'?30:400"},
          "fill": {"signal": "datum.value=='Data'?'#000000':datum.value=='Background'?'#ff0000':'transparent'"},
          "stroke": {"signal": "datum.value=='s48'?'#3f4fd0':datum.value=='s35'?'#cc77dd':datum.value=='s125'?'#6fe03a':'transparent'"},
          "strokeDash": {"signal": "datum.value=='s48'?[3,2]:datum.value=='s35'?[1,1.5]:[1,0]"},
          "strokeWidth": {"value": 1.5},
          "opacity": {"value": 1}}}}}}
   }},
  {"transform": [{"filter": "datum.data != null"}],
   "mark": {"type": "rule", "color": "#000", "strokeWidth": 1.3, "clip": true},
   "encoding": {"x": {"field": "lo", "type": "quantitative"}, "x2": {"field": "hi"}, "y": {"field": "data", "type": "quantitative"}}},
  {"transform": [{"filter": "datum.data != null"}],
   "mark": {"type": "errorbar", "color": "#000", "thickness": 1.3},
   "encoding": {"x": {"field": "mid", "type": "quantitative", "title": "LLP\u00a0 radial distance"}, "y": {"field": "data", "type": "quantitative", "title": "Normalised distribution"}, "yError": {"field": "dataErr"}}},
  {"transform": [{"filter": "datum.data != null"}],
   "mark": {"type": "point", "filled": true, "color": "#000", "size": 24, "opacity": 1, "clip": true},
   "encoding": {"x": {"field": "mid", "type": "quantitative"}, "y": {"field": "data", "type": "quantitative"}}},
  {"data": {"values": [{"t": "(d)"}]},
   "mark": {"type": "text", "font": "Liberation Serif", "fontSize": 22, "fontWeight": "bold", "color": "#000", "align": "center", "baseline": "middle"},
   "encoding": {"x": {"datum": 14.5}, "y": {"datum": 0.254}, "text": {"field": "t"}}},
  {"data": {"values": [{"t": "LHCb"}]},
   "mark": {"type": "text", "font": "Liberation Serif", "fontSize": 19, "color": "#000", "align": "center", "baseline": "middle"},
   "encoding": {"x": {"datum": 22.27}, "y": {"datum": 0.215}, "text": {"field": "t"}}},
  {"data": {"values": [{"t": "[mm]"}]},
   "mark": {"type": "text", "font": "Liberation Serif", "fontSize": 18, "color": "#000", "align": "right", "baseline": "middle"},
   "encoding": {"x": {"datum": 24.54}, "y": {"datum": 0.000139}, "text": {"field": "t"}}}
 ]
},
{
 "width": 307, "height": 204,
 "data": {"name": "e"},
 "layer": [
  {"mark": {"type": "rect", "color": "#ff0000", "stroke": "#ff0000", "strokeWidth": 0.6, "clip": true},
   "encoding": {
    "x": {"field": "lo", "type": "quantitative", "scale": {"domain": [0, 0.15], "nice": false, "zero": false},
      "axis": {"title": "LLP\u00a0 σ", "format": "~g", "values": [0,0.05,0.1,0.15]}},
    "x2": {"field": "hi"},
    "y": {"field": "bkg", "type": "quantitative", "scale": {"domain": [0, 0.3], "nice": false},
      "axis": {"title": "Normalised distribution", "format": "~g", "values": [0,0.1,0.2,0.3]}},
    "y2": {"datum": 0}
   }},
  {"transform": [{"filter": "datum.bkg > 0"}],
   "mark": {"type": "errorbar", "color": "#d42a2a", "thickness": 1.5},
   "encoding": {"x": {"field": "mid", "type": "quantitative", "title": "LLP\u00a0 σ"}, "y": {"field": "bkg", "type": "quantitative", "title": "Normalised distribution"}, "yError": {"field": "bkgErr"}}},
  {"transform": [{"fold": ["s48", "s35", "s125"], "as": ["series", "v"]}],
   "mark": {"type": "line", "interpolate": "step-after", "clip": true, "strokeWidth": 1.3},
   "encoding": {
    "x": {"field": "lo", "type": "quantitative"},
    "y": {"field": "v", "type": "quantitative"},
    "strokeDash": {"field": "series", "type": "nominal", "scale": {"domain": ["s48", "s35", "s125"], "range": [[3, 2], [1, 1.5], [1, 0]]}, "legend": null},
    "color": {"field": "series", "type": "nominal",
      "scale": {"domain": ["Data", "Background", "s48", "s35", "s125"], "range": ["#000000", "#ff0000", "#3f4fd0", "#cc77dd", "#6fe03a"]},
      "legend": {"orient": "none", "legendX": 152, "legendY": 34, "title": null, "padding": 0, "labelFont": "Liberation Serif", "labelFontSize": 15.5, "labelColor": "#000", "labelOffset": 5, "labelLimit": 300, "symbolSize": 400, "clipHeight": 13.5, "rowPadding": 0,
        "labelExpr": "datum.value=='s48'?'BV48 10ps mH114':datum.value=='s35'?'BV35 10ps mH114':datum.value=='s125'?'BV48 10ps mH125':datum.value",
        "encode": {"symbols": {"update": {
          "shape": {"signal": "datum.value=='Data'?'circle':datum.value=='Background'?'square':'stroke'"},
          "size": {"signal": "datum.value=='Data'?28:datum.value=='Background'?30:400"},
          "fill": {"signal": "datum.value=='Data'?'#000000':datum.value=='Background'?'#ff0000':'transparent'"},
          "stroke": {"signal": "datum.value=='s48'?'#3f4fd0':datum.value=='s35'?'#cc77dd':datum.value=='s125'?'#6fe03a':'transparent'"},
          "strokeDash": {"signal": "datum.value=='s48'?[3,2]:datum.value=='s35'?[1,1.5]:[1,0]"},
          "strokeWidth": {"value": 1.5},
          "opacity": {"value": 1}}}}}}
   }},
  {"transform": [{"filter": "datum.data != null"}],
   "mark": {"type": "rule", "color": "#000", "strokeWidth": 1.3, "clip": true},
   "encoding": {"x": {"field": "lo", "type": "quantitative"}, "x2": {"field": "hi"}, "y": {"field": "data", "type": "quantitative"}}},
  {"transform": [{"filter": "datum.data != null"}],
   "mark": {"type": "errorbar", "color": "#000", "thickness": 1.3},
   "encoding": {"x": {"field": "mid", "type": "quantitative", "title": "LLP\u00a0 σ"}, "y": {"field": "data", "type": "quantitative", "title": "Normalised distribution"}, "yError": {"field": "dataErr"}}},
  {"transform": [{"filter": "datum.data != null"}],
   "mark": {"type": "point", "filled": true, "color": "#000", "size": 24, "opacity": 1, "clip": true},
   "encoding": {"x": {"field": "mid", "type": "quantitative"}, "y": {"field": "data", "type": "quantitative"}}},
  {"data": {"values": [{"t": "(e)"}]},
   "mark": {"type": "text", "font": "Liberation Serif", "fontSize": 22, "fontWeight": "bold", "color": "#000", "align": "center", "baseline": "middle"},
   "encoding": {"x": {"datum": 0.0867}, "y": {"datum": 0.2768}, "text": {"field": "t"}}},
  {"data": {"values": [{"t": "LHCb"}]},
   "mark": {"type": "text", "font": "Liberation Serif", "fontSize": 19, "color": "#000", "align": "center", "baseline": "middle"},
   "encoding": {"x": {"datum": 0.1337}, "y": {"datum": 0.273}, "text": {"field": "t"}}},
  {"data": {"values": [{"t": "[mm]"}]},
   "mark": {"type": "text", "font": "Liberation Serif", "fontSize": 18, "color": "#000", "align": "right", "baseline": "middle"},
   "encoding": {"x": {"datum": 0.147}, "y": {"datum": -0.039}, "text": {"field": "t"}}},
  {"data": {"values": [{"t": "R"}]},
   "mark": {"type": "text", "font": "Liberation Serif", "fontSize": 13, "color": "#000", "align": "left", "baseline": "middle"},
   "encoding": {"x": {"datum": 0.0877}, "y": {"datum": -0.0588}, "text": {"field": "t"}}}
 ]
},
{
 "width": 307, "height": 204,
 "data": {"name": "f"},
 "layer": [
  {"mark": {"type": "rect", "color": "#ff0000", "stroke": "#ff0000", "strokeWidth": 0.6, "clip": true},
   "encoding": {
    "x": {"field": "lo", "type": "quantitative", "scale": {"domain": [0, 1], "nice": false, "zero": false},
      "axis": {"title": "LLP\u00a0 σ", "format": "~g", "values": [0,0.2,0.4,0.6,0.8,1]}},
    "x2": {"field": "hi"},
    "y": {"field": "bkg", "type": "quantitative", "scale": {"domain": [0, 0.4], "nice": false},
      "axis": {"title": "Normalised distribution", "titlePadding": 33, "format": "~g", "values": [0,0.1,0.2,0.3,0.4]}},
    "y2": {"datum": 0}
   }},
  {"transform": [{"filter": "datum.bkg > 0"}],
   "mark": {"type": "errorbar", "color": "#d42a2a", "thickness": 1.5},
   "encoding": {"x": {"field": "mid", "type": "quantitative", "title": "LLP\u00a0 σ"}, "y": {"field": "bkg", "type": "quantitative", "title": "Normalised distribution"}, "yError": {"field": "bkgErr"}}},
  {"transform": [{"fold": ["s48", "s35", "s125"], "as": ["series", "v"]}],
   "mark": {"type": "line", "interpolate": "step-after", "clip": true, "strokeWidth": 1.3},
   "encoding": {
    "x": {"field": "lo", "type": "quantitative"},
    "y": {"field": "v", "type": "quantitative"},
    "strokeDash": {"field": "series", "type": "nominal", "scale": {"domain": ["s48", "s35", "s125"], "range": [[3, 2], [1, 1.5], [1, 0]]}, "legend": null},
    "color": {"field": "series", "type": "nominal",
      "scale": {"domain": ["Data", "Background", "s48", "s35", "s125"], "range": ["#000000", "#ff0000", "#3f4fd0", "#cc77dd", "#6fe03a"]},
      "legend": {"orient": "none", "legendX": 156, "legendY": 34, "title": null, "padding": 0, "labelFont": "Liberation Serif", "labelFontSize": 15.5, "labelColor": "#000", "labelOffset": 5, "labelLimit": 300, "symbolSize": 400, "clipHeight": 13.5, "rowPadding": 0,
        "labelExpr": "datum.value=='s48'?'BV48 10ps mH114':datum.value=='s35'?'BV35 10ps mH114':datum.value=='s125'?'BV48 10ps mH125':datum.value",
        "encode": {"symbols": {"update": {
          "shape": {"signal": "datum.value=='Data'?'circle':datum.value=='Background'?'square':'stroke'"},
          "size": {"signal": "datum.value=='Data'?28:datum.value=='Background'?30:400"},
          "fill": {"signal": "datum.value=='Data'?'#000000':datum.value=='Background'?'#ff0000':'transparent'"},
          "stroke": {"signal": "datum.value=='s48'?'#3f4fd0':datum.value=='s35'?'#cc77dd':datum.value=='s125'?'#6fe03a':'transparent'"},
          "strokeDash": {"signal": "datum.value=='s48'?[3,2]:datum.value=='s35'?[1,1.5]:[1,0]"},
          "strokeWidth": {"value": 1.5},
          "opacity": {"value": 1}}}}}}
   }},
  {"transform": [{"filter": "datum.data != null"}],
   "mark": {"type": "rule", "color": "#000", "strokeWidth": 1.3, "clip": true},
   "encoding": {"x": {"field": "lo", "type": "quantitative"}, "x2": {"field": "hi"}, "y": {"field": "data", "type": "quantitative"}}},
  {"transform": [{"filter": "datum.data != null"}],
   "mark": {"type": "errorbar", "color": "#000", "thickness": 1.3},
   "encoding": {"x": {"field": "mid", "type": "quantitative", "title": "LLP\u00a0 σ"}, "y": {"field": "data", "type": "quantitative", "title": "Normalised distribution"}, "yError": {"field": "dataErr"}}},
  {"transform": [{"filter": "datum.data != null"}],
   "mark": {"type": "point", "filled": true, "color": "#000", "size": 24, "opacity": 1, "clip": true},
   "encoding": {"x": {"field": "mid", "type": "quantitative"}, "y": {"field": "data", "type": "quantitative"}}},
  {"data": {"values": [{"t": "(f)"}]},
   "mark": {"type": "text", "font": "Liberation Serif", "fontSize": 22, "fontWeight": "bold", "color": "#000", "align": "center", "baseline": "middle"},
   "encoding": {"x": {"datum": 0.559}, "y": {"datum": 0.3696}, "text": {"field": "t"}}},
  {"data": {"values": [{"t": "LHCb"}]},
   "mark": {"type": "text", "font": "Liberation Serif", "fontSize": 19, "color": "#000", "align": "center", "baseline": "middle"},
   "encoding": {"x": {"datum": 0.882}, "y": {"datum": 0.364}, "text": {"field": "t"}}},
  {"data": {"values": [{"t": "[mm]"}]},
   "mark": {"type": "text", "font": "Liberation Serif", "fontSize": 18, "color": "#000", "align": "right", "baseline": "middle"},
   "encoding": {"x": {"datum": 0.984}, "y": {"datum": -0.052}, "text": {"field": "t"}}},
  {"data": {"values": [{"t": "Z"}]},
   "mark": {"type": "text", "font": "Liberation Serif", "fontSize": 13, "color": "#000", "align": "left", "baseline": "middle"},
   "encoding": {"x": {"datum": 0.585}, "y": {"datum": -0.0784}, "text": {"field": "t"}}}
 ]
}
]
}
